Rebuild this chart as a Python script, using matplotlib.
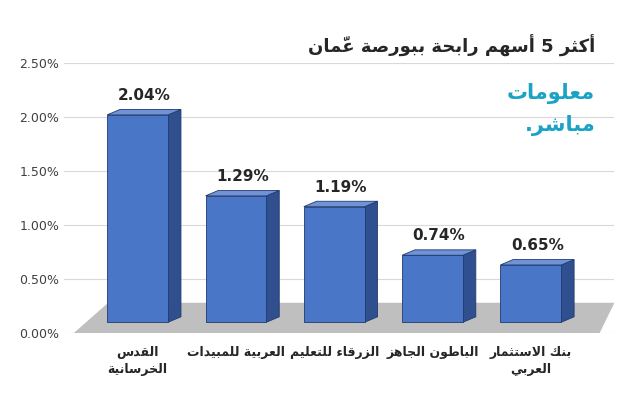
import matplotlib
matplotlib.use("Agg")
import matplotlib.pyplot as plt
from matplotlib.patches import Polygon

categories = ["القدس\nالخرسانية", "العربية للمبيدات", "الزرقاء للتعليم", "الباطون الجاهز", "بنك الاستثمار\nالعربي"]
values = [2.04, 1.29, 1.19, 0.74, 0.65]
title = "أكثر 5 أسهم رابحة ببورصة عمّان"
yticks = [0, 0.5, 1.0, 1.5, 2.0, 2.5]

# --- minimal Arabic shaper (presentation forms B) ---
F4 = {'ب':0xFE8F,'ت':0xFE95,'ث':0xFE99,'ج':0xFE9D,'ح':0xFEA1,'خ':0xFEA5,'س':0xFEB1,'ش':0xFEB5,
      'ص':0xFEB9,'ض':0xFEBD,'ط':0xFEC1,'ظ':0xFEC5,'ع':0xFEC9,'غ':0xFECD,'ف':0xFED1,'ق':0xFED5,
      'ك':0xFED9,'ل':0xFEDD,'م':0xFEE1,'ن':0xFEE5,'ه':0xFEE9,'ي':0xFEF1,'ئ':0xFE89}
F2 = {'آ':0xFE81,'أ':0xFE83,'ؤ':0xFE85,'إ':0xFE87,'ا':0xFE8D,'ة':0xFE93,'د':0xFEA9,'ذ':0xFEAB,
      'ر':0xFEAD,'ز':0xFEAF,'و':0xFEED,'ى':0xFEEF}
LAMALEF = {'ا':0xFEFB,'أ':0xFEF7,'إ':0xFEF9,'آ':0xFEF5}
MARKS = set('\u064B\u064C\u064D\u064E\u064F\u0650\u0651\u0652')

def shape_word(w):
    units = []
    for ch in w:
        if ch in MARKS and units:
            units[-1][1].append(ch)
        else:
            units.append([ch, []])
    merged = []
    i = 0
    while i < len(units):
        if units[i][0] == 'ل' and i + 1 < len(units) and units[i+1][0] in LAMALEF:
            merged.append(['LA' + units[i+1][0], units[i][1] + units[i+1][1]])
            i += 2
        else:
            merged.append(units[i]); i += 1
    def joins_next(b):
        return b in F4
    def joinable(b):
        return b in F4 or b in F2 or b.startswith('LA')
    out = []
    for k, (b, m) in enumerate(merged):
        prev = merged[k-1][0] if k > 0 else None
        nxt = merged[k+1][0] if k + 1 < len(merged) else None
        jp = prev is not None and joins_next(prev)
        jn = nxt is not None and joinable(nxt) and (b in F4)
        if b.startswith('LA'):
            c = chr(LAMALEF[b[2]] + (1 if jp else 0))
        elif b in F4:
            c = chr(F4[b] + (3 if jp and jn else 1 if jp else 2 if jn else 0))
        elif b in F2:
            c = chr(F2[b] + (1 if jp else 0))
        elif b == 'ء':
            c = '\uFE80'
        else:
            c = b
        out.append((c, m))
    s = ''
    for c, m in reversed(out):
        s += c + ''.join(m)
    return s

def is_ar(w):
    return any('\u0600' <= ch <= '\u06FF' for ch in w)

def ar(text):
    lines = []
    for line in text.split('\n'):
        words = line.split(' ')
        vis = [shape_word(w) if is_ar(w) else w for w in words]
        lines.append(' '.join(reversed(vis)))
    return '\n'.join(lines)

plt.rcParams['font.family'] = ['DejaVu Sans']
fig = plt.figure(figsize=(6.4, 4.0), dpi=100)
ax = fig.add_axes([0.10, 0.1675, 0.86, 0.675])
xmin, xmax = -0.75, 4.85
ax.set_xlim(xmin, xmax)
ax.set_ylim(0, 2.5)
for t in yticks:
    ax.axhline(t, color='#d9d9d9', lw=0.8, zorder=0)
ax.set_yticks(yticks)
ax.set_yticklabels([f"{t:.2f}%" for t in yticks], fontsize=9, color='#404040')
ax.set_xticks([])
for s in ax.spines.values():
    s.set_visible(False)
ax.tick_params(axis='y', length=0)

dx, dy = 0.13, 0.05
floor = Polygon([(xmin + 0.1, 0), (xmax - 0.15, 0), (xmax, 0.28), (xmin + 0.45, 0.28)],
                closed=True, facecolor='#bfbfbf', edgecolor='none', zorder=1)
ax.add_patch(floor)

w = 0.62
base = 0.1
for i, v in enumerate(values):
    x0, x1 = i - w / 2, i + w / 2
    top = v - 0.02
    ax.add_patch(Polygon([(x1, base), (x1 + dx, base + dy), (x1 + dx, top + dy), (x1, top)],
                         facecolor='#2f4f8f', edgecolor='#1f3a6e', lw=0.6, zorder=3))
    ax.add_patch(Polygon([(x0, top), (x1, top), (x1 + dx, top + dy), (x0 + dx, top + dy)],
                         facecolor='#6f93d6', edgecolor='#1f3a6e', lw=0.6, zorder=3))
    ax.bar(i, top - base, bottom=base, width=w, color='#4a76c8', edgecolor='#1f3a6e',
           lw=0.6, zorder=4)
    ax.text(i + dx / 2, v + 0.09, f"{v:.2f}%", ha='center', va='bottom', fontsize=11,
            fontweight='bold', color='#262626', zorder=5)
    ax.text(i, -0.12, ar(categories[i]), ha='center', va='top', fontsize=9,
            fontweight='bold', color='#262626', linespacing=1.4)

fig.text(0.93, 0.885, ar(title), ha='right', va='center', fontsize=13, fontweight='bold',
         color='#262626')
fig.text(0.93, 0.765, ar("معلومات"), ha='right', va='center', fontsize=15, fontweight='bold',
         color='#1aa3c4')
fig.text(0.93, 0.685, ar("مباشر."), ha='right', va='center', fontsize=15, fontweight='bold',
         color='#1aa3c4')
fig.savefig("out.png", dpi=100, facecolor='white')
